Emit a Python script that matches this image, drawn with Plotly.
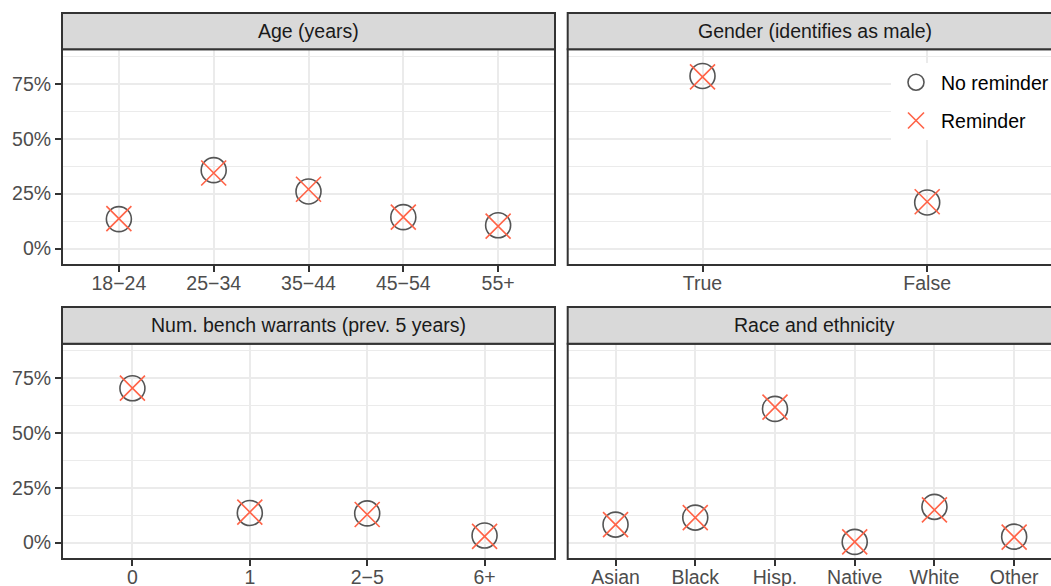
import plotly.graph_objects as go

# ---------------- data ----------------
age_cats = ["18−24", "25−34", "35−44", "45−54", "55+"]
age_no_reminder = [0.134, 0.357, 0.260, 0.143, 0.106]
age_reminder = [0.136, 0.344, 0.270, 0.143, 0.102]

gender_cats = ["True", "False"]
gender_no_reminder = [0.786, 0.210]
gender_reminder = [0.782, 0.213]

warrant_cats = ["0", "1", "2−5", "6+"]
warrant_no_reminder = [0.704, 0.135, 0.133, 0.032]
warrant_reminder = [0.705, 0.139, 0.128, 0.028]

race_cats = ["Asian", "Black", "Hisp.", "Native", "White", "Other"]
race_no_reminder = [0.082, 0.114, 0.610, 0.003, 0.163, 0.027]
race_reminder = [0.082, 0.114, 0.618, 0.003, 0.149, 0.025]

panel_titles = ["Age (years)", "Gender (identifies as male)",
                "Num. bench warrants (prev. 5 years)", "Race and ethnicity"]
y_tickvals = [0, 0.25, 0.5, 0.75]
y_ticktext = ["0%", "25%", "50%", "75%"]
series_names = ["No reminder", "Reminder"]

# ---------------- style ----------------
FONT = "Liberation Sans, Arial, sans-serif"
FS = 19.5
BORDER = "#333333"
GRID = "#EBEBEB"
STRIP_FILL = "#D9D9D9"
CIRCLE_COL = "#555555"
X_COL = "#FF6347"

W, H = 1051, 586
ML, MR, MT, MB = 62, 0, 13, 27
PW = W - ML - MR
PH = H - MT - MB


def clamp(v):
    return min(1.0, max(0.0, v))


def px_x(px):
    return (px - ML) / PW


def px_y(py):
    return 1 - (py - MT) / PH


left_dom = [0, px_x(555)]
right_left = px_x(567.7)
right_full = px_x(1062)
right_dom = [right_left, 1]

top_plot = [clamp(px_y(265)), clamp(px_y(49.3))]
top_strip = [clamp(px_y(49.3)), 1.0]
bot_plot = [0.0, clamp(px_y(343.7))]
bot_strip = [clamp(px_y(343.7)), clamp(px_y(307))]

visible_frac = (1 - right_left) / (right_full - right_left)

panels = [
    dict(cats=age_cats, no=age_no_reminder, rem=age_reminder, xd=left_dom, yd=top_plot,
         sd=top_strip, right=False, title=panel_titles[0]),
    dict(cats=gender_cats, no=gender_no_reminder, rem=gender_reminder, xd=right_dom, yd=top_plot,
         sd=top_strip, right=True, title=panel_titles[1]),
    dict(cats=warrant_cats, no=warrant_no_reminder, rem=warrant_reminder, xd=left_dom, yd=bot_plot,
         sd=bot_strip, right=False, title=panel_titles[2]),
    dict(cats=race_cats, no=race_no_reminder, rem=race_reminder, xd=right_dom, yd=bot_plot,
         sd=bot_strip, right=True, title=panel_titles[3]),
]

fig = go.Figure()
shapes = []
annotations = []
layout_axes = {}

for i, p in enumerate(panels):
    k = "" if i == 0 else str(i + 1)
    xa, ya = "x" + k, "y" + k
    n = len(p["cats"])
    lo = -0.6
    hi = n - 1 + 0.6
    if p["right"]:
        hi = lo + visible_frac * (hi - lo)

    fig.add_trace(go.Scatter(
        x=p["cats"], y=p["no"], mode="markers", name=series_names[0],
        legendgroup="a", showlegend=(i == 0), xaxis=xa, yaxis=ya,
        marker=dict(symbol="circle-open", size=25, color=CIRCLE_COL,
                    line=dict(width=1.6, color=CIRCLE_COL)),
        cliponaxis=False))
    fig.add_trace(go.Scatter(
        x=p["cats"], y=p["rem"], mode="markers", name=series_names[1],
        legendgroup="b", showlegend=(i == 0), xaxis=xa, yaxis=ya,
        marker=dict(symbol="x-thin-open", size=25, color=X_COL,
                    line=dict(width=1.6, color=X_COL)),
        cliponaxis=False))

    layout_axes["xaxis" + k] = dict(
        domain=p["xd"], anchor=ya, type="category", categoryarray=p["cats"],
        categoryorder="array", range=[lo, hi], showgrid=True, gridcolor=GRID,
        gridwidth=2, zeroline=False, showline=False, ticks="outside", ticklen=6,
        tickwidth=2, tickcolor=BORDER, ticklabelstandoff=-5,
        tickfont=dict(family=FONT, size=FS, color="#4D4D4D"), fixedrange=True)
    layout_axes["yaxis" + k] = dict(
        domain=p["yd"], anchor=xa, range=[-0.075, 0.9075],
        tickvals=y_tickvals, ticktext=y_ticktext,
        showticklabels=not p["right"], ticks="" if p["right"] else "outside",
        ticklen=6, tickwidth=2, tickcolor=BORDER,
        tickfont=dict(family=FONT, size=FS, color="#4D4D4D"),
        showgrid=True, gridcolor=GRID, gridwidth=2, zeroline=False, showline=False,
        minor=dict(tickvals=[0.125, 0.375, 0.625, 0.875], showgrid=True,
                   gridcolor=GRID, gridwidth=1, ticks=""),
        fixedrange=True)

    x0 = p["xd"][0]
    x1 = right_full if p["right"] else p["xd"][1]
    # panel border
    shapes.append(dict(type="rect", xref="paper", yref="paper", x0=x0, x1=x1,
                       y0=p["yd"][0], y1=p["yd"][1],
                       line=dict(color=BORDER, width=2), fillcolor="rgba(0,0,0,0)",
                       layer="above"))
    # strip
    shapes.append(dict(type="rect", xref="paper", yref="paper", x0=x0, x1=x1,
                       y0=p["sd"][0], y1=p["sd"][1],
                       line=dict(color=BORDER, width=2), fillcolor=STRIP_FILL,
                       layer="above"))
    annotations.append(dict(text=p["title"], xref="paper", yref="paper",
                            x=(x0 + x1) / 2, y=(p["sd"][0] + p["sd"][1]) / 2,
                            xanchor="center", yanchor="middle", showarrow=False,
                            font=dict(family=FONT, size=FS, color="#1A1A1A")))

fig.update_layout(
    width=W, height=H,
    margin=dict(l=ML, r=MR, t=MT, b=MB, autoexpand=False),
    paper_bgcolor="white", plot_bgcolor="white",
    font=dict(family=FONT, size=FS, color="black"),
    shapes=shapes, annotations=annotations,
    showlegend=True,
    legend=dict(x=px_x(891), y=px_y(63), xanchor="left", yanchor="top",
                bgcolor="white", borderwidth=0, tracegroupgap=10, itemwidth=40,
                font=dict(family=FONT, size=FS, color="black")),
    **layout_axes,
)

fig.write_html("out.html", config={"displayModeBar": False},
               post_script="document.body.style.margin='0';document.body.style.overflow='hidden';")
